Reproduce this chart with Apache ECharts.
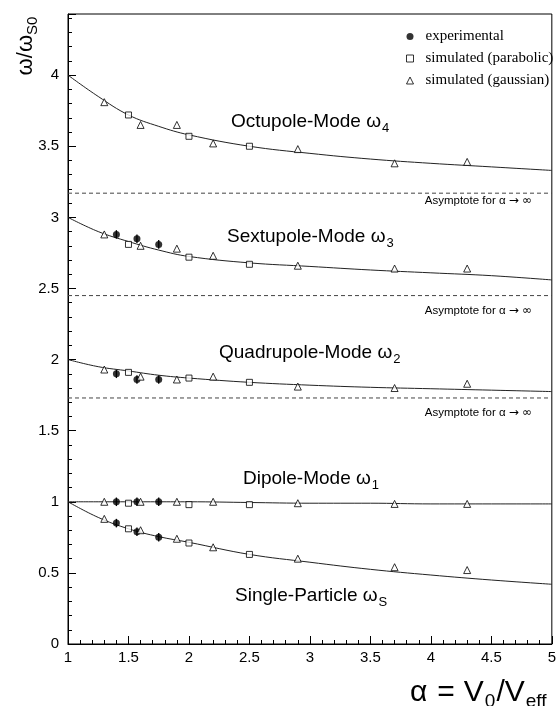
<!DOCTYPE html>
<html>
<head>
<meta charset="utf-8">
<script src="https://cdn.jsdelivr.net/npm/echarts@6/dist/echarts.min.js"></script>
<style>
  html, body { margin: 0; padding: 0; background: #fff; }
  #main { width: 559px; height: 706px; }
</style>
</head>
<body>
<div id="main"></div>
<script>
// theory curves
const alphaCurve = [1, 1.25, 1.5, 1.75, 2, 2.5, 3, 3.5, 4, 4.5, 5];
const curveSingle = [1.0, 0.89, 0.81, 0.755, 0.715, 0.63, 0.575, 0.525, 0.485, 0.45, 0.42];
const curveDipole = [1, 1, 1, 1, 1, 0.995, 0.99, 0.99, 0.985, 0.985, 0.985];
const curveQuad = [2.0, 1.95, 1.92, 1.89, 1.87, 1.84, 1.82, 1.805, 1.795, 1.785, 1.775];
const curveSext = [3.0, 2.9, 2.83, 2.77, 2.725, 2.68, 2.655, 2.63, 2.61, 2.59, 2.56];
const curveOct = [4.0, 3.85, 3.72, 3.64, 3.58, 3.5, 3.45, 3.41, 3.38, 3.355, 3.33];
const asymptotes = [1.73, 2.45, 3.17];

// experimental points
const alphaExp = [1.4, 1.57, 1.75];
const expSingle = [0.85, 0.79, 0.75];
const expDipole = [1.0, 1.0, 1.0];
const expQuad = [1.9, 1.86, 1.86];
const expSext = [2.88, 2.85, 2.81];
const expErr = 0.03;

// simulated (parabolic)
const alphaPara = [1.5, 2.0, 2.5];
const paraSingle = [0.81, 0.71, 0.63];
const paraDipole = [0.99, 0.98, 0.98];
const paraQuad = [1.91, 1.87, 1.84];
const paraSext = [2.81, 2.72, 2.67];
const paraOct = [3.72, 3.57, 3.5];

// simulated (gaussian)
const alphaGauss = [1.3, 1.6, 1.9, 2.2, 2.9, 3.7, 4.3];
const gaussSingle = [0.88, 0.8, 0.74, 0.68, 0.6, 0.54, 0.52];
const gaussDipole = [1.0, 1.0, 1.0, 1.0, 0.99, 0.985, 0.985];
const gaussQuad = [1.93, 1.88, 1.86, 1.88, 1.81, 1.8, 1.83];
const gaussSext = [2.88, 2.8, 2.78, 2.73, 2.66, 2.64, 2.64];
const gaussOct = [3.81, 3.65, 3.65, 3.52, 3.48, 3.38, 3.39];

const zip = (xs, ys) => xs.map((x, i) => [x, ys[i]]);
const join = (xs, lists) => [].concat(...lists.map(ys => zip(xs, ys)));

const sans = 'Liberation Sans';
const serif = 'Liberation Serif';

let chart = echarts.init(document.getElementById('main'));

let curveSeries = [curveSingle, curveDipole, curveQuad, curveSext, curveOct].map(ys => ({
  type: 'line',
  data: zip(alphaCurve, ys),
  smooth: 0.4,
  showSymbol: false,
  silent: true,
  lineStyle: { color: '#222', width: 1 },
  z: 2
}));

let asymSeries = asymptotes.map(v => ({
  type: 'line',
  data: [[1, v], [5, v]],
  showSymbol: false,
  silent: true,
  lineStyle: { color: '#444', width: 1, type: [4, 3] },
  z: 1
}));

let expData = join(alphaExp, [expSingle, expDipole, expQuad, expSext]);

function modeLabel(x, y, name, sub) {
  return {
    type: 'text', x: x, y: y,
    style: {
      text: '{m|' + name + '}{s|' + sub + '}',
      verticalAlign: 'middle',
      align: 'left',
      rich: {
        m: { fontFamily: sans, fontSize: 19, color: '#000' },
        s: { fontFamily: sans, fontSize: 13, color: '#000', padding: [12, 0, 0, 1] }
      }
    }
  };
}

function asymLabel(y) {
  return {
    type: 'text', x: 532, y: y,
    style: {
      text: '{t|Asymptote for α }{a|→}{t| }{a|∞}',
      align: 'right', verticalAlign: 'middle',
      rich: {
        t: { fontFamily: sans, fontSize: 11.5, color: '#000' },
        a: { fontFamily: 'DejaVu Sans', fontSize: 12, color: '#000' }
      }
    }
  };
}

const hollow = { color: '#fff', borderColor: '#000', borderWidth: 1 };

let option = {
  animation: false,
  backgroundColor: '#fff',
  grid: { left: 68, right: 3, top: 14, bottom: 62, show: true, borderColor: '#000', borderWidth: 1 },
  legend: {
    orient: 'vertical',
    left: 401,
    top: 24,
    itemWidth: 7,
    itemHeight: 7,
    itemGap: 7,
    textStyle: { fontFamily: serif, fontSize: 15, color: '#000', padding: [0, 0, 0, 7] },
    data: [
      { name: 'experimental', icon: 'circle', itemStyle: { color: '#000', borderWidth: 0 } },
      { name: 'simulated (parabolic)', icon: 'rect', itemStyle: hollow },
      { name: 'simulated (gaussian)', icon: 'triangle', itemStyle: hollow }
    ]
  },
  xAxis: [{
    type: 'value', min: 1, max: 5, interval: 0.5,
    splitLine: { show: false },
    axisLine: { lineStyle: { color: '#000' } },
    axisTick: { inside: true, length: 8, lineStyle: { color: '#000' } },
    minorTick: { show: true, splitNumber: 5, length: 4, lineStyle: { color: '#000' } },
    axisLabel: { fontFamily: sans, fontSize: 15, color: '#000', margin: 6 }
  }],
  yAxis: [{
    type: 'value', min: 0, max: 4.43, interval: 0.5,
    splitLine: { show: false },
    axisLine: { show: true, lineStyle: { color: '#000' } },
    axisTick: { inside: true, length: 8, lineStyle: { color: '#000' } },
    axisLabel: {
      fontFamily: sans, fontSize: 15, color: '#000', margin: 9,
      formatter: v => (Math.abs(v * 2 - Math.round(v * 2)) < 1e-6 ? String(v) : '')
    }
  }, {
    type: 'value', min: 0, max: 4.43, interval: 0.1, position: 'left',
    splitLine: { show: false },
    axisLine: { show: false },
    axisTick: { inside: true, length: 4, lineStyle: { color: '#000' } },
    axisLabel: { show: false }
  }],
  graphic: [
    {
      type: 'text', x: 26, y: 46, rotation: Math.PI / 2,
      style: {
        text: '{m|ω/ω}{s|S0}', align: 'center', verticalAlign: 'middle',
        rich: {
          m: { fontFamily: sans, fontSize: 22, color: '#000' },
          s: { fontFamily: sans, fontSize: 15, color: '#000', padding: [13, 0, 0, 0] }
        }
      }
    },
    {
      type: 'text', x: 410, y: 693,
      style: {
        text: '{m|α}{e|=}{m|V}{s|0}{m|/V}{s|eff}', align: 'left', verticalAlign: 'middle',
        rich: {
          m: { fontFamily: sans, fontSize: 30, color: '#000' },
          e: { fontFamily: sans, fontSize: 30, color: '#000', padding: [0, 9, 0, 10] },
          s: { fontFamily: sans, fontSize: 19, color: '#000', padding: [17, 1, 0, 1] }
        }
      }
    },
    modeLabel(231, 122, 'Octupole-Mode ω', '4'),
    modeLabel(227, 237, 'Sextupole-Mode ω', '3'),
    modeLabel(219, 353, 'Quadrupole-Mode ω', '2'),
    modeLabel(243, 479, 'Dipole-Mode ω', '1'),
    modeLabel(235, 596, 'Single-Particle ω', 'S'),
    asymLabel(201),
    asymLabel(311),
    asymLabel(413)
  ],
  series: [].concat(asymSeries, curveSeries, [
    {
      type: 'custom',
      silent: true,
      data: expData.map(p => [p[0], p[1], expErr]),
      renderItem: function (params, api) {
        let x = api.value(0), y = api.value(1), e = api.value(2);
        let p1 = api.coord([x, y - e]);
        let p2 = api.coord([x, y + e]);
        return {
          type: 'line',
          shape: { x1: p1[0], y1: p1[1], x2: p2[0], y2: p2[1] },
          style: { stroke: '#000', lineWidth: 1.3 }
        };
      },
      z: 3
    },
    {
      name: 'experimental',
      type: 'scatter',
      data: expData,
      symbol: 'circle',
      symbolSize: 7,
      itemStyle: { color: '#000' },
      z: 4
    },
    {
      name: 'simulated (parabolic)',
      type: 'scatter',
      data: join(alphaPara, [paraSingle, paraDipole, paraQuad, paraSext, paraOct]),
      symbol: 'rect',
      symbolSize: 6,
      itemStyle: hollow,
      z: 4
    },
    {
      name: 'simulated (gaussian)',
      type: 'scatter',
      data: join(alphaGauss, [gaussSingle, gaussDipole, gaussQuad, gaussSext, gaussOct]),
      symbol: 'triangle',
      symbolSize: 7,
      itemStyle: hollow,
      z: 4
    }
  ])
};

chart.setOption(option);
</script>
</body>
</html>
